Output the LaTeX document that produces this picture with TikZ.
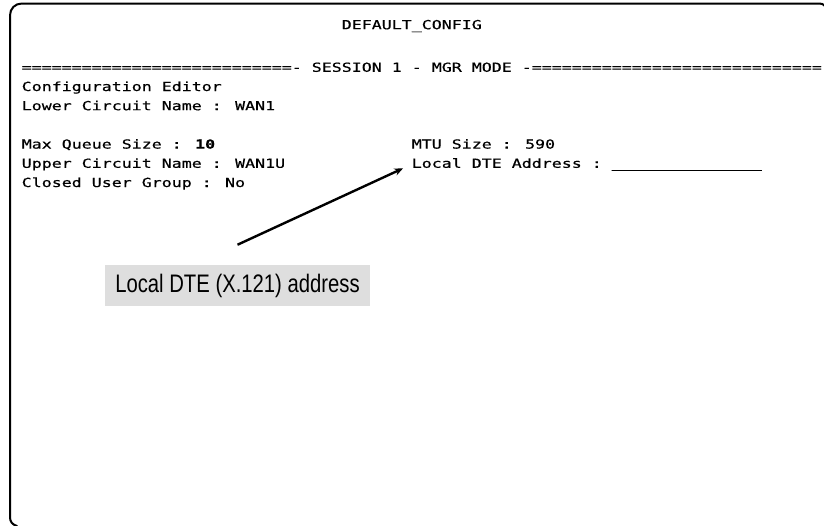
\documentclass[tikz,border=0pt]{standalone}
\usepackage{fontspec}
\usetikzlibrary{arrows.meta}
% terminal font: 10 px character pitch, 80 columns
\newfontfamily\crtmono[FakeStretch=1.329,FakeBold=0.5]{DejaVu Sans Mono}
\newfontfamily\calloutfont[FakeStretch=0.8]{Liberation Sans}
\definecolor{calloutgray}{HTML}{DEDEDE}
\begin{document}
\begin{tikzpicture}[x=0.75pt,y=-0.75pt,
  crt/.style={anchor=base west,inner sep=0pt,font=\crtmono\fontsize{9.375pt}{11pt}\selectfont},
  frame/.style={line width=1.5pt,line cap=round},
  callout/.style={fill=calloutgray,inner sep=0pt,minimum width=198.75pt,
    minimum height=30.75pt,font=\calloutfont\fontsize{19pt}{22pt}\selectfont},
  pointer/.style={line width=1.8pt,-{Stealth[length=6.5pt,width=5.5pt]},shorten >=7pt}]
\useasboundingbox (0,0) rectangle (824,525);

% screen outline (right and bottom edges fall outside the view)
\draw[frame] (826,11) .. controls (826,6) and (824,3.5) .. (819,3.5)
  -- (22,3.5) .. controls (15,3.5) and (10,8.5) .. (10,15.5)
  -- (10,517) .. controls (10,521.5) and (12,524.5) .. (17,526);

% screen text, columns at x = 21.5 + 10*col, rows every 19.2
\node[crt] (title) at (341.5,29.2) {DEFAULT\_CONFIG};
\node[crt] (banner) at (21.5,71.8) {===========================- SESSION 1 - MGR MODE -=============================};
\node[crt] (editor) at (21.5,91.0) {Configuration Editor};
\node[crt] (lower) at (21.5,110.2) {Lower Circuit Name : WAN1};
\node[crt] (queue) at (21.5,148.6) {Max Queue Size : {\bfseries 10}};
\node[crt] (mtu) at (411.5,148.6) {MTU Size : 590};
\node[crt] (upper) at (21.5,167.8) {Upper Circuit Name : WAN1U};
\node[crt] (dte) at (411.5,167.8) {Local DTE Address :};
\node[crt] (field) at (611.5,167.8) {\_\_\_\_\_\_\_\_\_\_\_\_\_\_\_};
\node[crt] (cug) at (21.5,187.0) {Closed User Group : No};

% callout
\node[callout] (lbl) at (237.5,285.5) {Local DTE (X.121) address};
\coordinate (tail) at ([yshift=15pt]lbl.north);
\draw[pointer] (tail) -- ([yshift=-1pt]dte.west);
\end{tikzpicture}
\end{document}
